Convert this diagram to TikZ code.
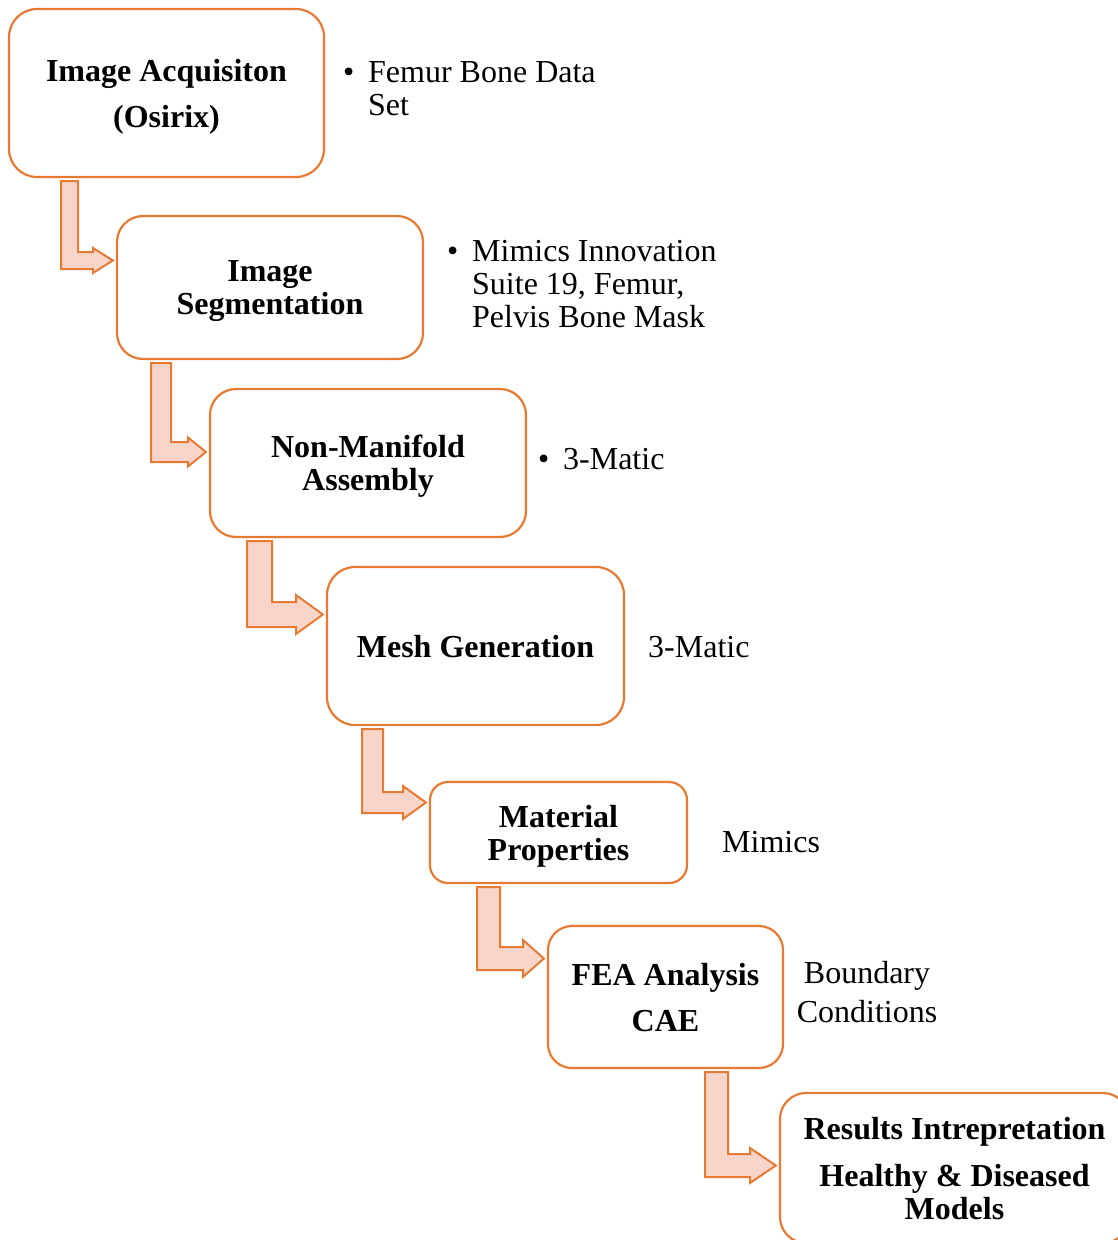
\documentclass[tikz,border=0pt]{standalone}
\usepackage{fontspec}
\setmainfont{Liberation Serif}
\usetikzlibrary{calc}

\definecolor{stepedge}{RGB}{229,122,52}
\definecolor{stepfill}{RGB}{248,213,200}

\tikzset{
  stepbox/.style={draw=stepedge, line width=2.2pt, inner sep=0pt, align=center,
    text depth=0pt, font=\fontsize{32}{33}\selectfont\bfseries},
  note/.style={inner sep=0pt, font=\fontsize{32}{33}\selectfont},
  flowarrow/.style={draw=stepedge, fill=stepfill, line width=2pt, line join=miter},
}

% Bent block arrow: leaves the bottom of #1, turns right and points at #2.
% #3 shaft left x, #4 shaft width, #5 bar bottom y, #6 head base x, #7 head half height
\newcommand\flowstep[7]{%
  \draw[flowarrow] let \p1=(#1.south), \p2=(#2.west) in
    (#3pt,\y1-3pt) -- (#3pt+#4pt,\y1-3pt) -- (#3pt+#4pt,#5pt+#4pt)
    -- (#6pt,#5pt+#4pt) -- (#6pt,#5pt+#4pt/2+#7pt)
    -- (\x2-3pt,#5pt+#4pt/2)
    -- (#6pt,#5pt+#4pt/2-#7pt) -- (#6pt,#5pt) -- (#3pt,#5pt) -- cycle;
}

\begin{document}
\begin{tikzpicture}[x=1pt,y=1pt]
  \useasboundingbox (0,0) rectangle (1118,-1240);
  \clip (0,0) rectangle (1118,-1240);

  % process steps
  \node[stepbox, rounded corners=28pt, minimum width=315pt, minimum height=168pt]
    (b1) at (166.5,-93) {Image Acquisiton\\[13pt](Osirix)};
  \node[stepbox, rounded corners=26pt, minimum width=306pt, minimum height=143pt]
    (b2) at (270,-287.5) {Image\\Segmentation};
  \node[stepbox, rounded corners=26pt, minimum width=316pt, minimum height=148pt]
    (b3) at (368,-463) {Non-Manifold\\Assembly};
  \node[stepbox, rounded corners=28pt, minimum width=297pt, minimum height=158pt]
    (b4) at (475.5,-646) {Mesh Generation};
  \node[stepbox, rounded corners=18pt, minimum width=257pt, minimum height=101pt]
    (b5) at (558.5,-832.5) {Material\\Properties};
  \node[stepbox, rounded corners=24pt, minimum width=235pt, minimum height=142pt]
    (b6) at (665.5,-997) {FEA Analysis\\[13pt]CAE};
  \node[stepbox, rounded corners=26pt, minimum width=349pt, minimum height=150pt]
    (b7) at (954.5,-1168) {Results Intrepretation\\[14pt]Healthy \& Diseased\\Models};

  % connectors between steps
  \flowstep{b1}{b2}{61}{17}{-269}{93}{12.5}
  \flowstep{b2}{b3}{151}{20}{-462}{188}{14.5}
  \flowstep{b3}{b4}{247}{25}{-627}{296}{19.5}
  \flowstep{b4}{b5}{362}{21}{-813}{403}{16.5}
  \flowstep{b5}{b6}{477}{23}{-970}{523}{18.5}
  \flowstep{b6}{b7}{705}{23}{-1177}{750}{17.5}

  % tools and inputs used at each step
  \node[note, anchor=base west] (n1) at (368,-82)
    {\begin{tabular}[t]{@{}l@{}}\llap{\textbullet\hspace{14pt}}Femur Bone Data\\Set\end{tabular}};
  \node[note, anchor=base west] (n2) at (472,-261)
    {\begin{tabular}[t]{@{}l@{}}\llap{\textbullet\hspace{14pt}}Mimics Innovation\\Suite 19, Femur,\\Pelvis Bone Mask\end{tabular}};
  \node[note, anchor=base west] (n3) at (563,-469)
    {\llap{\textbullet\hspace{14pt}}3-Matic};
  \node[note, anchor=base west] (n4) at (648,-657) {3-Matic};
  \node[note, anchor=base west] (n5) at (722,-852) {Mimics};
  \node[note, anchor=base] (n6) at (867,-983)
    {\begin{tabular}[t]{@{}c@{}}Boundary\\[6pt]Conditions\end{tabular}};
\end{tikzpicture}
\end{document}
